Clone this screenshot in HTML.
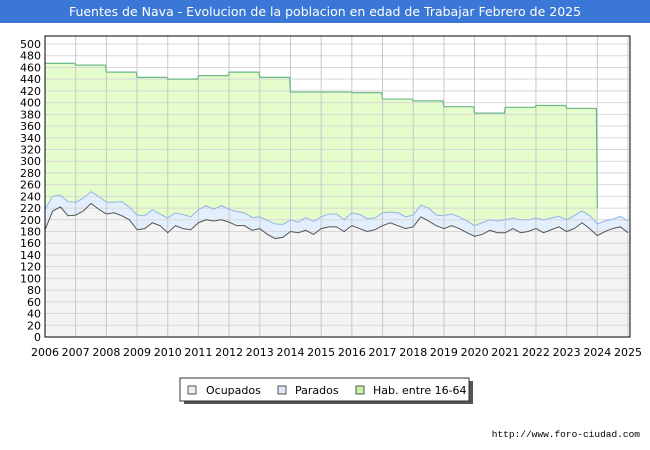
<!DOCTYPE html>
<html><head><meta charset="utf-8"><style>
body{margin:0;background:#fff;font-family:"DejaVu Sans","Liberation Sans",sans-serif}
#wrap{position:relative;width:650px;height:450px;overflow:hidden}
</style></head><body><div id="wrap">
<svg id="svg" width="650" height="450" xmlns="http://www.w3.org/2000/svg">
<rect x="0" y="0" width="650" height="23" fill="#3a77d6"/>
<text x="325" y="16" text-anchor="middle" font-size="12.5" fill="#fff">Fuentes de Nava - Evolucion de la poblacion en edad de Trabajar Febrero de 2025</text>
<g id="bg"></g><g id="series"></g><g id="grid"></g><g id="lines"></g><g id="axes"></g>
<g>
<rect x="184" y="381" width="289" height="23" fill="#555"/>
<rect x="180" y="378" width="289" height="23" fill="#fff" stroke="#333"/>
<rect x="188" y="386" width="8" height="8" fill="#eee" stroke="#555"/>
<text x="206" y="394" font-size="11">Ocupados</text>
<rect x="278" y="386" width="8" height="8" fill="#dde9fb" stroke="#555"/>
<text x="295" y="394" font-size="11">Parados</text>
<rect x="356" y="386" width="8" height="8" fill="#c8f5a0" stroke="#555"/>
<text x="373" y="394" font-size="11">Hab. entre 16-64</text>
</g>
<text x="640" y="437" text-anchor="end" font-size="9.5" font-family="Liberation Mono,monospace">http://www.foro-ciudad.com</text>
</svg></div>
<script>
const years=[2006,2007,2008,2009,2010,2011,2012,2013,2014,2015,2016,2017,2018,2019,2020,2021,2022,2023,2024,2025];
const habValues=[467,464,452,443,440,446,452,443,418,418,417,406,403,393,382,392,395,390,220];
const ocupados=[183,215,222,207,208,215,228,218,210,212,207,200,183,185,195,190,178,190,185,183,195,200,198,200,196,190,190,182,185,175,168,170,180,178,182,175,185,188,188,180,190,185,180,183,190,195,190,185,188,205,198,190,185,190,185,178,172,175,182,178,178,185,178,180,185,178,183,188,180,185,195,185,173,180,185,188,178];
const parados=[35,25,20,24,22,22,20,22,20,18,24,22,25,22,22,20,25,22,24,22,22,24,20,24,22,24,22,22,20,24,25,22,20,18,22,22,20,22,22,20,22,24,22,20,22,18,22,20,20,20,22,18,22,20,20,20,18,20,18,20,22,18,22,20,18,22,20,18,20,22,20,22,20,18,16,18,20];
const yTicks=[];for(let v=0;v<=500;v+=20)yTicks.push(v);
const X0=45,X1=628,Y0=337,Y1=44;
const xs=t=>X0+(t-2006)/(2025-2006)*(X1-X0);
const ys=v=>Y0-v/500*(Y0-Y1);
const NS="http://www.w3.org/2000/svg";
function mk(p,tag,at){const e=document.createElementNS(NS,tag);for(const k in at)e.setAttribute(k,at[k]);document.getElementById(p).appendChild(e);return e;}
mk('bg','rect',{x:X0,y:36,width:X1-X0+2,height:Y0-36,fill:'#fff'});
yTicks.forEach(v=>{const l=mk('grid','line',{x1:X0,x2:X1+2,y1:ys(v),y2:ys(v),stroke:'#d8d8d8'});


const t=mk('axes','text',{x:X0-4,y:ys(v)+4,'text-anchor':'end','font-size':11});t.textContent=v;

});
const n=ocupados.length,tq=i=>2006+i*19/(n-1);
let hp=`M${xs(2006)},${Y0}`;habValues.forEach((v,i)=>{hp+=` L${xs(years[i])},${ys(v)} L${xs(years[i]+ (i<habValues.length-1?0.97:0))},${ys(v)}`;});
let hl=hp.replace(`M${xs(2006)},${Y0}`,`M${xs(2006)},${ys(habValues[0])}`);
hp+=` L${xs(2024)},${Y0} Z`;
const ha=mk('series','path',{d:hp,fill:'#e5fccb'});


const hln=mk('lines','path',{d:hl.replace(/ L[^ ]+$/,''),fill:'none',stroke:'#6cb88a','stroke-width':1.2});


let pt=ocupados.map((v,i)=>`${xs(tq(i))},${ys(v+parados[i])}`).join(' L');
const pa=mk('series','path',{d:`M${xs(2006)},${Y0} L${pt} L${xs(2025)},${Y0} Z`,fill:'#e3effc'});


const pl=mk('lines','path',{d:'M'+pt,fill:'none',stroke:'#93b5ea'});


let ot=ocupados.map((v,i)=>`${xs(tq(i))},${ys(v)}`).join(' L');
const oa=mk('series','path',{d:`M${xs(2006)},${Y0} L${ot} L${xs(2025)},${Y0} Z`,fill:'#f4f4f4'});


const ol=mk('lines','path',{d:'M'+ot,fill:'none',stroke:'#555'});


years.forEach(y=>{const l=mk('grid','line',{x1:xs(y),x2:xs(y),y1:36,y2:Y0,stroke:'#c8c8c8'});


const t=mk('axes','text',{x:xs(y),y:356,'text-anchor':'middle','font-size':11});t.textContent=y;

});
const fr=mk('axes','rect',{x:X0,y:36,width:X1-X0+2,height:Y0-36,fill:'none',stroke:'#000'});


</script></body></html>
